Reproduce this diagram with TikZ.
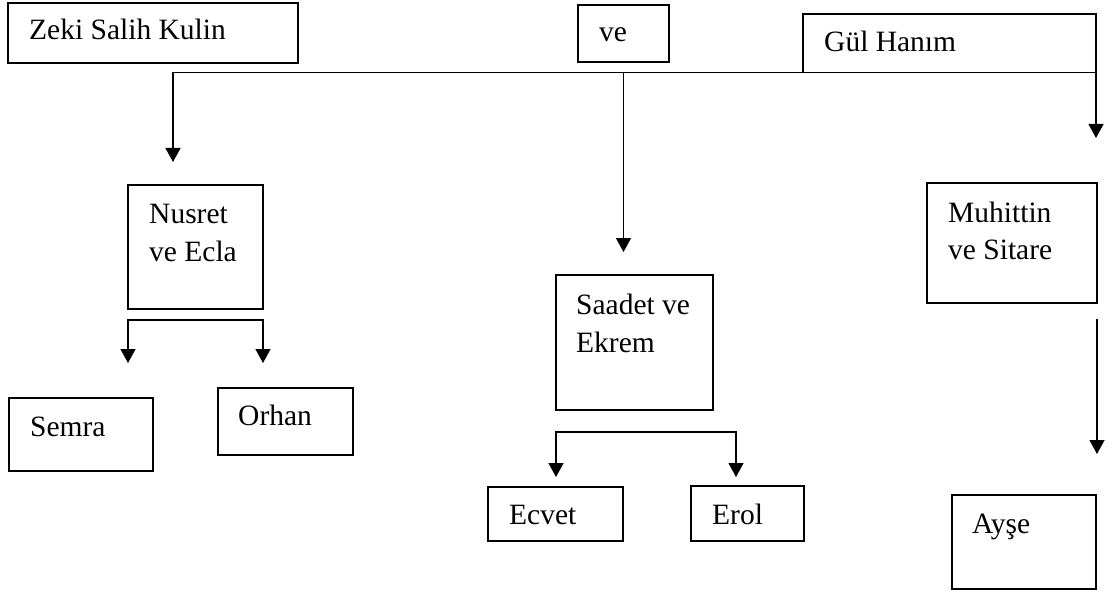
\documentclass[tikz,border=0pt]{standalone}
\usepackage{fontspec}
\setmainfont{Liberation Serif}
\usetikzlibrary{arrows.meta}
\tikzset{
  fambox/.style={draw, line width=1.3pt, rectangle, inner sep=0pt, outer sep=0pt, anchor=north west},
  lbl/.style={anchor=base west, inner sep=0pt, font=\fontsize{29.5}{38}\selectfont, align=left},
  conn/.style={line width=1.3pt},
  tip/.style={-{Triangle[length=14pt,width=15pt]}},
  tipboth/.style={{Triangle[length=14pt,width=15pt]}-{Triangle[length=14pt,width=15pt]}},
}
\begin{document}
\begin{tikzpicture}[x=1pt,y=-1pt]
  \fill[white] (0,0) rectangle (1106,591);
  \useasboundingbox (0,0) rectangle (1106,591);

  % boxes
  \node[fambox, minimum width=290pt, minimum height=60pt]  (zeki)     at (8,3)     {};
  \node[fambox, minimum width=91pt,  minimum height=57pt]  (ve)       at (578,5)   {};
  \node[fambox, minimum width=293pt, minimum height=58.5pt](gul)      at (803,14)  {};
  \node[fambox, minimum width=135pt, minimum height=124pt] (nusret)   at (128,185) {};
  \node[fambox, minimum width=157pt, minimum height=135pt] (saadet)   at (556,275) {};
  \node[fambox, minimum width=170pt, minimum height=120pt] (muhittin) at (927,183) {};
  \node[fambox, minimum width=144pt, minimum height=73pt]  (semra)    at (9,398)   {};
  \node[fambox, minimum width=135pt, minimum height=67pt]  (orhan)    at (218,388) {};
  \node[fambox, minimum width=135pt, minimum height=54pt]  (ecvet)    at (488,487) {};
  \node[fambox, minimum width=113pt, minimum height=55pt]  (erol)     at (691,486) {};
  \node[fambox, minimum width=144pt, minimum height=94pt]  (ayse)     at (952,495) {};

  % labels (multi-line labels are placed by the baseline of their last line)
  \node[lbl] (zekiT)     at (29,40)   {Zeki Salih Kulin};
  \node[lbl] (veT)       at (599,42)  {ve};
  \node[lbl] (gulT)      at (824,52)  {Gül Hanım};
  \node[lbl] (nusretT)   at (149,261) {Nusret\\ve Ecla};
  \node[lbl] (saadetT)   at (576,352) {Saadet ve\\Ekrem};
  \node[lbl, font=\fontsize{29.5}{37}\selectfont] (muhittinT) at (948,259) {Muhittin\\ve Sitare};
  \node[lbl] (semraT)    at (30,436)  {Semra};
  \node[lbl] (orhanT)    at (238,425) {Orhan};
  \node[lbl] (ecvetT)    at (509,524) {Ecvet};
  \node[lbl] (erolT)     at (712,524) {Erol};
  \node[lbl] (ayseT)     at (972,533) {Ayşe};

  % arrow ends
  \coordinate (nusretTip) at (173,162);
  \coordinate (saadetTip) at (623.5,252);
  \coordinate (muhTip)    at (1096,138);
  \coordinate (semraTip)  at (128,363);
  \coordinate (orhanTip)  at (263,363);
  \coordinate (ecvetTip)  at (556,477);
  \coordinate (erolTip)   at (736,477);
  \coordinate (ayseTip)   at (1097,454);

  % connectors
  \draw[conn, tip] (gul.south west) -| (nusretTip);
  \draw[conn, tip] (ve.south |- gul.south west) -- (saadetTip);
  \draw[conn, tip] (gul.south east) -- (muhTip);
  \draw[conn, tipboth] (semraTip) |- ([yshift=-11pt]nusret.south) -| (orhanTip);
  \draw[conn, tipboth] (ecvetTip) |- ([yshift=-22pt]saadet.south) -| (erolTip);
  \draw[conn, tip] ([yshift=-16pt]muhittin.south east) -- (ayseTip);
\end{tikzpicture}
\end{document}
